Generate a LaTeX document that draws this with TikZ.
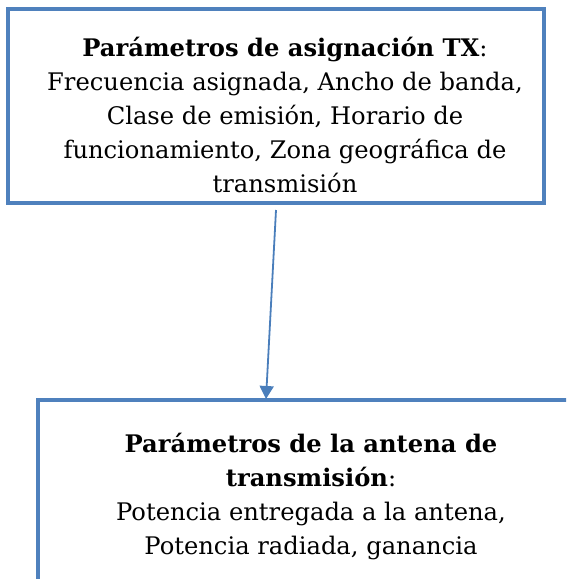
\documentclass[tikz,border=0pt]{standalone}
\usepackage{fontspec}
\setmainfont{DejaVu Serif}
\usetikzlibrary{arrows.meta}
\definecolor{boxblue}{HTML}{4F81BD}
\definecolor{linkblue}{HTML}{4A7EBB}
\tikzset{
  boxnode/.style={draw=boxblue, line width=3.5pt, inner sep=0pt},
  txt/.style={align=center, inner sep=0pt, font=\fontsize{24.2}{34}\selectfont},
  link/.style={draw=linkblue, line width=1.8pt, -{Triangle[length=13pt,width=14pt]}}
}
\begin{document}
\begin{tikzpicture}[x=1pt,y=-1pt]
\useasboundingbox (0,0) rectangle (566,579);
\clip (0,0) rectangle (566,579);
\node[boxnode, minimum width=536pt, minimum height=194pt] (top) at (276,106) {};
\node[txt] (toptext) at (285,115) {\textbf{Parámetros de asignación TX}:\\Frecuencia asignada, Ancho de banda,\\Clase de emisión, Horario de\\funcionamiento, Zona geográfica de\\transmisión};
\node[boxnode, minimum width=546pt, minimum height=194pt] (bot) at (311,497) {};
\node[txt] (bottext) at (311,497) {\textbf{Parámetros de la antena de}\\\textbf{transmisión}:\\Potencia entregada a la antena,\\Potencia radiada, ganancia};
\coordinate (a1) at (276,210);
\coordinate (a2) at (266,399);
\draw[link] (a1) -- (a2);
\end{tikzpicture}
\end{document}
